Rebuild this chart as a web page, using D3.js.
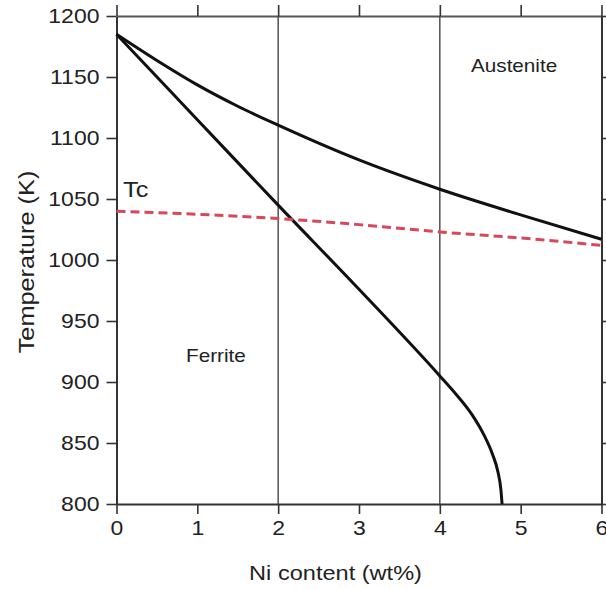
<!DOCTYPE html>
<html>
<head>
<meta charset="utf-8">
<script src="https://cdn.jsdelivr.net/npm/d3@7"></script>
<style>
  html, body { margin: 0; padding: 0; background: #fff; }
  svg text { font-family: "Liberation Sans", Arial, Helvetica, sans-serif; fill: #222; }
</style>
</head>
<body>
<svg id="chart" width="606" height="589"></svg>
<script>
// Axis ticks
const niTicks = [0, 1, 2, 3, 4, 5, 6];
const tempTicks = [800, 850, 900, 950, 1000, 1050, 1100, 1150, 1200];
const guideNi = [2, 4];

// Austenite / two-phase boundary (upper curve)
const gammaNi = [0, 0.5, 1, 1.5, 2, 3, 4, 5, 6];
const gammaT  = [1185, 1163.5, 1143.5, 1126, 1110.5, 1082, 1058, 1037, 1017];

// Ferrite / two-phase boundary (lower curve)
const alphaNi = [0, 1, 2, 3, 4, 4.2, 4.4, 4.55, 4.65, 4.72, 4.755, 4.77];
const alphaT  = [1185, 1115, 1045, 976, 905, 890, 873, 856, 841, 826, 812, 800];

// Curie temperature line
const tcNi = [0, 1, 2, 3, 4, 5, 6];
const tcT  = [1040, 1037.5, 1034, 1029, 1023, 1018, 1012];

const SX = 1.15; // horizontal glyph stretch

const svg = d3.select("#chart");
const x = d3.scaleLinear().domain([0, 6]).range([116.5, 601.5]);
const y = d3.scaleLinear().domain([800, 1200]).range([504, 16]);
const [x0, x1] = x.range();
const [y0, y1] = y.range();

function stretchText(sel) {
  sel.selectAll("text").attr("transform", `scale(${SX},1)`);
}

// Left axis
const gL = svg.append("g").attr("transform", `translate(${x0},0)`)
  .call(d3.axisLeft(y).tickValues(tempTicks).tickFormat(d3.format("d"))
    .tickSize(10).tickPadding(4.8).tickSizeOuter(0));
gL.selectAll("text").attr("font-size", 20).attr("x", -14.8);
stretchText(gL);

// Bottom axis
const gB = svg.append("g").attr("transform", `translate(0,${y0})`)
  .call(d3.axisBottom(x).tickValues(niTicks).tickFormat(d3.format("d"))
    .tickSize(10).tickPadding(7).tickSizeOuter(0));
gB.selectAll("text").attr("font-size", 20);
stretchText(gB);

// Top axis (ticks only)
const gT = svg.append("g").attr("transform", `translate(0,${y1})`)
  .call(d3.axisTop(x).tickValues(niTicks).tickSize(11).tickFormat("").tickSizeOuter(0));

// Right axis (ticks only)
const gR = svg.append("g").attr("transform", `translate(${x1},0)`)
  .call(d3.axisRight(y).tickValues(tempTicks).tickSize(10).tickFormat("").tickSizeOuter(0));

[gL, gB, gT, gR].forEach(g => {
  g.select(".domain").attr("stroke", "#333").attr("stroke-width", 2);
  g.selectAll(".tick line").attr("stroke", "#333").attr("stroke-width", 1.6);
});
gT.select(".domain").attr("stroke", "#555");

// Vertical guide lines at 2 and 4 wt%
svg.append("g").selectAll("line").data(guideNi).join("line")
  .attr("x1", d => x(d)).attr("x2", d => x(d))
  .attr("y1", y1).attr("y2", y0)
  .attr("stroke", "#444").attr("stroke-width", 1.4);

const line = d3.line().x(d => x(d[0])).y(d => y(d[1])).curve(d3.curveMonotoneX);

// Phase boundaries
svg.append("path").datum(d3.zip(gammaNi, gammaT)).attr("d", line)
  .attr("fill", "none").attr("stroke", "#111").attr("stroke-width", 3);
svg.append("path").datum(d3.zip(alphaNi, alphaT)).attr("d", line)
  .attr("fill", "none").attr("stroke", "#111").attr("stroke-width", 3);

// Curie temperature (dashed)
svg.append("path").datum(d3.zip(tcNi, tcT)).attr("d", line)
  .attr("fill", "none").attr("stroke", "#d8475c").attr("stroke-width", 3)
  .attr("stroke-dasharray", "9,5");

// In-plot labels
function label(txt, ax, ay, size) {
  svg.append("text").text(txt)
    .attr("font-size", size)
    .attr("transform", `translate(${ax},${ay}) scale(${SX},1)`);
}
label("Tc", 123, 197, 22);
label("Austenite", 471, 72, 18);
label("Ferrite", 186, 362, 18);

// Axis titles
svg.append("text").text("Ni content (wt%)")
  .attr("font-size", 20.5).attr("text-anchor", "middle")
  .attr("transform", `translate(335.5,580) scale(${SX},1)`);
svg.append("text").text("Temperature (K)")
  .attr("font-size", 22).attr("text-anchor", "middle")
  .attr("transform", `translate(34,262) rotate(-90) scale(${SX},1)`);
</script>
</body>
</html>
